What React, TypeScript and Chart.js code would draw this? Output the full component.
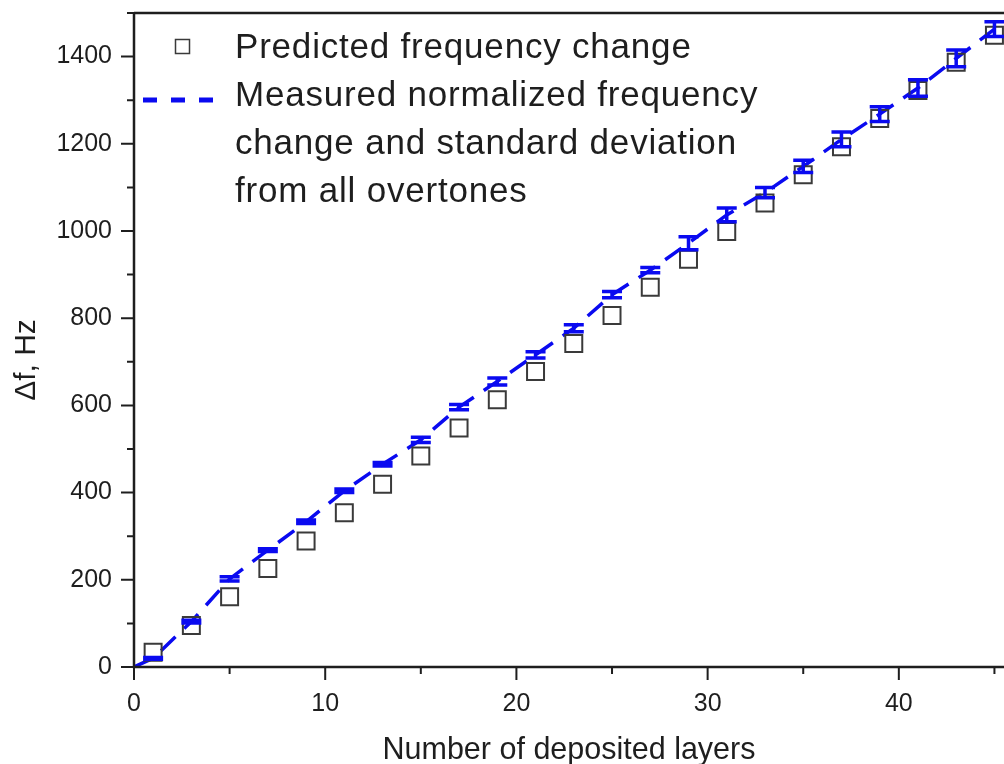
import React, { useEffect, useRef } from 'react';
import { Chart, registerables } from 'chart.js';

Chart.register(...registerables);

// ---- Data ----
const LAYERS_PRED = [1, 3, 5, 7, 9, 11, 13, 15, 17, 19, 21, 23, 25, 27, 29, 31, 33, 35, 37, 39, 41, 43, 45];
const PREDICTED = [34, 95, 161, 226, 289, 354, 419, 484, 548, 613, 678, 742, 806, 871, 935, 999, 1064, 1129, 1193, 1258, 1322, 1387, 1449];

const LAYERS_MEAS = [0, 1, 3, 5, 7, 9, 11, 13, 15, 17, 19, 21, 23, 25, 27, 29, 31, 33, 35, 37, 39, 41, 43, 45];
const MEASURED = [0, 20, 104, 202, 268, 333, 404, 465, 521, 596, 655, 716, 777, 854, 910, 972, 1037, 1088, 1148, 1210, 1268, 1328, 1396, 1463];
const MEASURED_SD = [0, 2, 3, 5, 3, 4, 4, 4, 6, 6, 8, 7, 8, 7, 6, 15, 16, 12, 14, 17, 17, 19, 19, 17];

const X_MAJOR_STEP = 10;
const Y_MAJOR_STEP = 200;

const LEGEND_PRED = ['Predicted frequency change'];
const LEGEND_MEAS = ['Measured normalized frequency', 'change and standard deviation', 'from all overtones'];
const X_TITLE = 'Number of deposited layers';
const Y_TITLE = '\u0394f, Hz';

// ---- Styles ----
const FONT = '"Liberation Sans", Arial, Helvetica, sans-serif';
const INK = '#1e1e1e';
const BLUE = '#0a0af0';
const SQUARE = '#3a3a3a';

const axesPlugin = {
  id: 'originAxes',
  afterDraw(chart: any) {
    const { ctx, chartArea: a, scales } = chart;
    const x = scales.x;
    const y = scales.y;
    ctx.save();
    ctx.strokeStyle = INK;
    ctx.lineWidth = 2.5;
    ctx.lineCap = 'butt';
    ctx.beginPath();
    ctx.moveTo(a.left, a.top);
    ctx.lineTo(a.left, a.bottom);
    ctx.lineTo(chart.width, a.bottom);
    ctx.moveTo(a.left, a.top);
    ctx.lineTo(chart.width, a.top);
    ctx.stroke();
    ctx.lineWidth = 2;
    ctx.beginPath();
    x.ticks.forEach((t: any) => {
      const px = x.getPixelForValue(t.value);
      const len = t.value % X_MAJOR_STEP === 0 ? 13 : 7;
      ctx.moveTo(px, a.bottom);
      ctx.lineTo(px, a.bottom + len);
    });
    y.ticks.forEach((t: any) => {
      const py = y.getPixelForValue(t.value);
      const len = t.value % Y_MAJOR_STEP === 0 ? 13 : 7;
      ctx.moveTo(a.left, py);
      ctx.lineTo(a.left - len, py);
    });
    ctx.stroke();

    ctx.fillStyle = INK;
    ctx.font = `30px ${FONT}`;
    ctx.textAlign = 'center';
    ctx.textBaseline = 'middle';
    ctx.translate(27, (a.top + a.bottom) / 2 + 20);
    ctx.rotate(-Math.PI / 2);
    ctx.fillText(Y_TITLE, 0, 0);
    ctx.restore();
  },
};

const errorBarPlugin = {
  id: 'errorBars',
  afterDatasetsDraw(chart: any) {
    const { ctx, scales } = chart;
    const x = scales.x;
    const y = scales.y;
    ctx.save();
    ctx.strokeStyle = BLUE;
    ctx.lineWidth = 3.5;
    ctx.setLineDash([]);
    LAYERS_MEAS.forEach((lx, i) => {
      const sd = MEASURED_SD[i];
      if (!sd) return;
      const px = x.getPixelForValue(lx);
      const top = y.getPixelForValue(MEASURED[i] + sd);
      const bot = y.getPixelForValue(MEASURED[i] - sd);
      ctx.beginPath();
      ctx.moveTo(px, top);
      ctx.lineTo(px, bot);
      ctx.moveTo(px - 10, top);
      ctx.lineTo(px + 10, top);
      ctx.moveTo(px - 10, bot);
      ctx.lineTo(px + 10, bot);
      ctx.stroke();
    });
    ctx.restore();
  },
};

const legendPlugin = {
  id: 'insideLegend',
  afterDraw(chart: any) {
    const { ctx, chartArea: a } = chart;
    const textX = a.left + 101;
    const lineGap = 48;
    let base = a.top + 45;
    ctx.save();
    ctx.fillStyle = INK;
    ctx.font = `35px ${FONT}`;
    if ('letterSpacing' in ctx) (ctx as any).letterSpacing = '0.8px';
    ctx.textAlign = 'left';
    ctx.textBaseline = 'alphabetic';
    ctx.strokeStyle = SQUARE;
    ctx.lineWidth = 1.5;
    ctx.strokeRect(a.left + 41.5, base - 18.5, 14, 14);
    LEGEND_PRED.forEach((t) => {
      ctx.fillText(t, textX, base);
      base += lineGap;
    });
    ctx.strokeStyle = BLUE;
    ctx.lineWidth = 5;
    ctx.setLineDash([14, 14]);
    ctx.beginPath();
    ctx.moveTo(a.left + 9, base - 6);
    ctx.lineTo(a.left + 80, base - 6);
    ctx.stroke();
    ctx.setLineDash([]);
    LEGEND_MEAS.forEach((t) => {
      ctx.fillText(t, textX, base);
      base += lineGap;
    });
    ctx.restore();
  },
};

export default function App() {
  const ref = useRef<HTMLCanvasElement | null>(null);

  useEffect(() => {
    document.body.style.margin = '0';
    const canvas = ref.current;
    if (!canvas) return;
    const chart = new Chart(canvas, {
      type: 'scatter',
      data: {
        datasets: [
          {
            label: LEGEND_MEAS.join(' '),
            data: LAYERS_MEAS.map((lx, i) => ({ x: lx, y: MEASURED[i] })),
            showLine: true,
            borderColor: BLUE,
            borderWidth: 3.5,
            borderDash: [20, 12],
            pointRadius: 0,
            fill: false,
            order: 2,
          },
          {
            label: LEGEND_PRED[0],
            data: LAYERS_PRED.map((lx, i) => ({ x: lx, y: PREDICTED[i] })),
            showLine: false,
            pointStyle: 'rect',
            pointRadius: 12,
            pointHoverRadius: 12,
            pointBorderWidth: 2,
            borderColor: SQUARE,
            backgroundColor: 'rgba(0,0,0,0)',
            order: 1,
          },
        ],
      },
      options: {
        animation: false,
        responsive: false,
        devicePixelRatio: 1,
        events: [],
        layout: { autoPadding: false, padding: { top: 13, right: 0, bottom: 0, left: 0 } },
        plugins: {
          legend: { display: false },
          tooltip: { enabled: false },
        },
        scales: {
          x: {
            type: 'linear',
            min: 0,
            max: 45.5,
            bounds: 'data',
            grid: { display: false, drawTicks: false },
            border: { display: false },
            ticks: {
              stepSize: 5,
              includeBounds: false,
              autoSkip: false,
              maxRotation: 0,
              padding: 22,
              color: INK,
              font: { family: FONT, size: 25 },
              callback: (v: any) => (Number(v) % X_MAJOR_STEP === 0 ? String(v) : ''),
            },
            title: {
              display: true,
              text: X_TITLE,
              color: INK,
              font: { family: FONT, size: 30.5, lineHeight: 0.9 },
              padding: 0,
            },
            afterFit: (s: any) => {
              s.height = 97;
              s.paddingLeft = 0;
              s.paddingRight = 0;
            },
          },
          y: {
            type: 'linear',
            min: 0,
            max: 1500,
            bounds: 'data',
            grid: { display: false, drawTicks: false },
            border: { display: false },
            ticks: {
              stepSize: 100,
              includeBounds: false,
              autoSkip: false,
              padding: 22,
              color: INK,
              font: { family: FONT, size: 25 },
              callback: (v: any) => (Number(v) % Y_MAJOR_STEP === 0 ? String(v) : ''),
            },
            afterFit: (s: any) => {
              s.width = 134;
              s.paddingTop = 0;
              s.paddingBottom = 0;
            },
          },
        },
      },
      plugins: [errorBarPlugin, axesPlugin, legendPlugin],
    });
    return () => chart.destroy();
  }, []);

  return (
    <div style={{ width: 1004, height: 764, background: '#fff' }}>
      <canvas ref={ref} width={1004} height={764} style={{ display: 'block' }} />
    </div>
  );
}
